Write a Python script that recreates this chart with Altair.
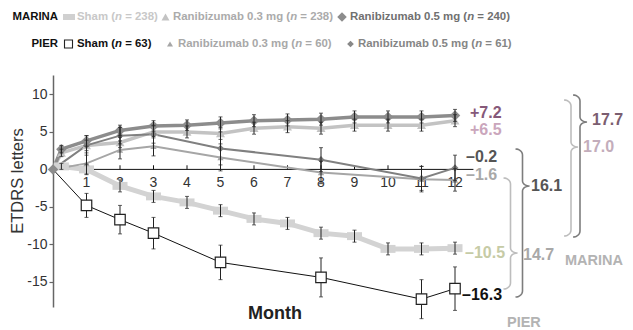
import numpy as np
import pandas as pd
import altair as alt

FONT = "Liberation Sans"

# ---------------- data ----------------
marina_months = [0, 0.25, 1, 2, 3, 4, 5, 6, 7, 8, 9, 10, 11, 12]
marina_sham = [0, 0.4, 0.0, -2.2, -3.6, -4.4, -5.5, -6.6, -7.2, -8.5, -8.9, -10.6, -10.6, -10.5]
marina_sham_err = [0, 0.4, 0.7, 0.8, 0.8, 0.8, 0.8, 0.8, 0.8, 0.8, 0.8, 0.8, 0.8, 0.8]
marina_03 = [0, 2.2, 3.2, 3.6, 5.0, 5.0, 4.8, 5.5, 5.7, 5.5, 5.9, 5.9, 5.9, 6.5]
marina_03_err = [0, 0.5, 0.7, 0.7, 0.8, 0.8, 0.8, 0.8, 0.8, 0.8, 0.8, 0.8, 0.8, 0.8]
marina_05 = [0, 2.7, 3.8, 5.2, 5.8, 5.9, 6.2, 6.5, 6.6, 6.7, 7.0, 7.0, 7.0, 7.2]
marina_05_err = [0, 0.5, 0.7, 0.7, 0.7, 0.7, 0.8, 0.8, 0.8, 0.8, 0.8, 0.8, 0.8, 0.8]

pier_months = [0, 1, 2, 3, 5, 8, 11, 12]
pier_sham = [0, -4.8, -6.7, -8.5, -12.4, -14.4, -17.3, -15.9]
pier_sham_err = [0, 1.6, 1.9, 2.1, 2.3, 2.6, 2.6, 2.9]
pier_03 = [0, 0.8, 2.6, 3.1, 1.6, -0.4, -1.3, -1.4]
pier_03_err = [0, 1.4, 1.2, 1.3, 1.8, 1.5, 1.7, 1.5]
pier_05 = [0, 3.2, 4.5, 4.7, 2.8, 1.3, -1.2, 0.2]
pier_05_err = [0, 1.3, 1.1, 1.2, 2.2, 1.6, 1.6, 1.7]

legend_groups = ["MARINA", "PIER"]
legend_prefix = [["Sham (", "Ranibizumab 0.3 mg (", "Ranibizumab 0.5 mg ("],
                 ["Sham (", "Ranibizumab 0.3 mg (", "Ranibizumab 0.5 mg ("]]
legend_suffix = [["= 238)", "= 238)", "= 240)"],
                 ["= 63)", "= 60)", "= 61)"]]

end_labels = ["+7.2", "+6.5", "\u20130.2", "\u20131.6", "\u201310.5", "\u201316.3"]
diff_labels = ["17.7", "17.0", "16.1", "14.7"]
study_labels = ["MARINA", "PIER"]
x_tick_labels = [str(m) for m in range(1, 13)]
y_tick_values = [-15, -10, -5, 0, 5, 10]

# ---------------- layout ----------------
PXM, PXU = 33.5, 7.5          # px per month, px per letter
OX, OY = 53.0, 169.4          # page px of month 0 / value 0
W, H = 570, 232
XMAX = W / PXM
YMAX = (OY - 75) / PXU
YMIN = YMAX - H / PXU


def dxm(px):
    return (px - OX) / PXM


def dyv(py):
    return (OY - py) / PXU


xs = alt.Scale(domain=[0, XMAX], nice=False, zero=False)
ys = alt.Scale(domain=[YMIN, YMAX], nice=False, zero=False)
yaxis = alt.Axis(values=y_tick_values, title=None, grid=False, domainColor="#666",
                 domainWidth=1.5, tickColor="#666", tickSize=4, tickWidth=1.2,
                 labelFontSize=14, labelColor="#333", labelFont=FONT, labelPadding=2,
                 labelExpr="datum.value < 0 ? '-' + abs(datum.value) : '' + datum.value")


def X(f):
    return alt.X(f, type="quantitative", scale=xs, axis=None)


def Y(f):
    return alt.Y(f, type="quantitative", scale=ys, axis=yaxis)


RECT = "M-1,-0.53H1V0.53H-1Z"

series = [
    dict(m=marina_months, v=marina_sham, e=marina_sham_err, line="#d3d3d3", lw=5,
         shape=RECT, size=225, fill="#d3d3d3", stroke="#d3d3d3", sw=0, m0=False),
    dict(m=marina_months, v=marina_03, e=marina_03_err, line="#c3c3c3", lw=3.5,
         shape="triangle-up", size=81, fill="#c3c3c3", stroke="#c3c3c3", sw=0, m0=False),
    dict(m=marina_months, v=marina_05, e=marina_05_err, line="#8c8c8c", lw=3.5,
         shape="diamond", size=110, fill="#8c8c8c", stroke="#8c8c8c", sw=0, m0=True),
    dict(m=pier_months, v=pier_03, e=pier_03_err, line="#a6a6a6", lw=2,
         shape="triangle-up", size=40, fill="#a6a6a6", stroke="#a6a6a6", sw=0, m0=False),
    dict(m=pier_months, v=pier_05, e=pier_05_err, line="#808080", lw=2,
         shape="diamond", size=50, fill="#808080", stroke="#808080", sw=0, m0=False),
    dict(m=pier_months, v=pier_sham, e=pier_sham_err, line="#111111", lw=1,
         shape="square", size=110, fill="#ffffff", stroke="#222222", sw=1.2, m0=False),
]

line_layers, point_layers, err_layers = [], [], []
for s in series:
    df = pd.DataFrame({"month": s["m"], "value": s["v"], "err": s["e"]})
    df["lo"] = df["value"] - df["err"]
    df["hi"] = df["value"] + df["err"]
    base = alt.Chart(df)
    line_layers.append(base.mark_line(color=s["line"], strokeWidth=s["lw"]).encode(
        x=X("month"), y=Y("value")))
    dp = df if s["m0"] else df[df["month"] > 0]
    point_layers.append(alt.Chart(dp).mark_point(shape=s["shape"], size=s["size"], filled=True,
                                                 fill=s["fill"], stroke=s["stroke"],
                                                 strokeWidth=s["sw"], opacity=1).encode(
        x=X("month"), y=Y("value")))
    de = df[df["err"] > 0]
    eb = alt.Chart(de)
    err_layers.append(eb.mark_rule(color="#222", strokeWidth=1).encode(
        x=X("month"), y=Y("lo"), y2="hi"))
    err_layers.append(eb.mark_tick(orient="horizontal", color="#222", size=4, thickness=1).encode(
        x=X("month"), y=Y("lo")))
    err_layers.append(eb.mark_tick(orient="horizontal", color="#222", size=4, thickness=1).encode(
        x=X("month"), y=Y("hi")))

# x axis drawn at value 0
xaxis_line = alt.Chart(pd.DataFrame({"a": [0]})).mark_rule(color="#111", strokeWidth=1).encode(
    x=alt.datum(0, scale=xs, axis=None), x2=alt.datum(12.55), y=alt.datum(0, scale=ys, axis=yaxis))
tick_df = pd.DataFrame({"month": list(range(1, 13)), "lab": x_tick_labels, "y0": 0.0, "y1": 0.55})
xticks = alt.Chart(tick_df).mark_rule(color="#111", strokeWidth=1).encode(
    x=X("month"), y=Y("y0"), y2="y1")
xlabels = alt.Chart(tick_df).mark_text(font=FONT, fontSize=14, color="#333", dy=14,
                                       baseline="middle").encode(
    x=X("month"), y=Y("y0"), text="lab:N")

# braces
brace_specs = [  # x vertical (page px), top, tip, bottom (page px), colour
    (580, 95, 122, 237, "#7d7d7d"),
    (571, 100, 147, 236, "#bdbdbd"),
    (522.5, 149, 186, 297, "#7d7d7d"),
    (510.5, 178, 253, 289, "#bdbdbd"),
]
rows = []
t = np.linspace(0, np.pi / 2, 8)
for bi, (bx, btop, btip, bbot, col) in enumerate(brace_specs):
    hw, r, tw, tr = 7, 6, 7, 5
    pts = []
    pts += list(zip(bx - hw + hw * np.sin(t), btop + r - r * np.cos(t)))
    pts += list(zip(bx + tw - tw * np.cos(t), btip - tr + tr * np.sin(t)))
    pts += list(zip(bx + tw - tw * np.sin(t), btip + tr - tr * np.cos(t)))
    pts += list(zip(bx - hw + hw * np.cos(t), bbot - r + r * np.sin(t)))
    for k, (px, py) in enumerate(pts):
        rows.append({"b": bi, "o": k, "month": dxm(px), "value": dyv(py), "col": col})
brace_df = pd.DataFrame(rows)
braces = alt.Chart(brace_df).mark_line(strokeWidth=1.6).encode(
    x=X("month"), y=Y("value"), order="o:Q", detail="b:N",
    color=alt.Color("col:N", scale=None))

# annotation texts (page px positions -> data coordinates)
ann_pos = [(470, 113), (470, 130), (466, 157), (466, 175), (465, 253), (462, 294.5)]
ann_col = ["#86597a", "#caa6bc", "#555555", "#a8a8a8", "#c6cba6", "#111111"]
diff_pos = [(592, 119.5), (583, 146.5), (531, 186), (523, 255)]
diff_col = ["#7b5d70", "#c3adbb", "#555555", "#a8a8a8"]
study_pos = [(565, 261), (507, 323)]
tx = []
for lab, (px, py), c in zip(end_labels, ann_pos, ann_col):
    tx.append({"x": dxm(px), "y": dyv(py), "text": lab, "color": c, "fs": 16})
for lab, (px, py), c in zip(diff_labels, diff_pos, diff_col):
    tx.append({"x": dxm(px), "y": dyv(py), "text": lab, "color": c, "fs": 16})
for lab, (px, py) in zip(study_labels, study_pos):
    tx.append({"x": dxm(px), "y": dyv(py), "text": lab, "color": "#b3b3b3", "fs": 14.5})
ann = alt.Chart(pd.DataFrame(tx)).mark_text(font=FONT, fontWeight="bold", align="left",
                                            baseline="middle").encode(
    x=X("x"), y=Y("y"), text="text:N", color=alt.Color("color:N", scale=None),
    size=alt.Size("fs:Q", scale=None))

month_title = alt.Chart(pd.DataFrame({"x": [dxm(275)], "y": [dyv(313.5)], "t": ["Month"]})).mark_text(
    font=FONT, fontWeight="bold", fontSize=18, color="#222", align="center", baseline="middle").encode(
    x=X("x"), y=Y("y"), text="t:N")
y_title = alt.Chart(pd.DataFrame({"x": [dxm(18)], "y": [dyv(181)], "t": ["ETDRS letters"]})).mark_text(
    font=FONT, fontSize=16.5, color="#333", align="center", baseline="middle", angle=270).encode(
    x=X("x"), y=Y("y"), text="t:N")

# legend
AW = {" ": .278, "(": .333, ")": .333, "=": .584, ".": .278, "S": .667, "h": .611, "a": .556,
      "m": .889, "n": .611, "R": .722, "i": .278, "b": .611, "z": .5, "u": .611, "g": .611}
for d in "0123456789":
    AW[d] = .556
LFS = 11.4


def tw_(s):
    return sum(AW.get(ch, .6) for ch in s) * LFS


row_y = [17, 44]
text_start = [[77, 173, 350], [77, 178, 358]]
leg_col = [["#c8c8c8", "#ababab", "#707070"], ["#111111", "#a8a8a8", "#858585"]]
reg, ital, heads = [], [], []
for r in range(2):
    heads.append({"x": dxm(58), "y": dyv(row_y[r]), "t": legend_groups[r]})
    for i in range(3):
        x0 = text_start[r][i]
        pre, suf = legend_prefix[r][i], legend_suffix[r][i]
        c = leg_col[r][i]
        reg.append({"x": dxm(x0), "y": dyv(row_y[r]), "t": pre, "c": c})
        ital.append({"x": dxm(x0 + tw_(pre)), "y": dyv(row_y[r]), "t": "n", "c": c})
        reg.append({"x": dxm(x0 + tw_(pre) + tw_("n") + tw_(" ")), "y": dyv(row_y[r]),
                    "t": suf, "c": c})
leg_reg = alt.Chart(pd.DataFrame(reg)).mark_text(font=FONT, fontWeight="bold", fontSize=LFS,
                                                align="left", baseline="middle").encode(
    x=X("x"), y=Y("y"), text="t:N", color=alt.Color("c:N", scale=None))
leg_it = alt.Chart(pd.DataFrame(ital)).mark_text(font=FONT, fontWeight="bold", fontStyle="italic",
                                                fontSize=LFS, align="left", baseline="middle").encode(
    x=X("x"), y=Y("y"), text="t:N", color=alt.Color("c:N", scale=None))
leg_head = alt.Chart(pd.DataFrame(heads)).mark_text(font=FONT, fontWeight="bold", fontSize=LFS,
                                                   color="#111", align="right", baseline="middle").encode(
    x=X("x"), y=Y("y"), text="t:N")

sym_specs = [  # page x, row, shape, size, fill, stroke, sw
    (69, 0, "M-1,-0.5H1V0.5H-1Z", 144, "#d0d0d0", "#d0d0d0", 0),
    (165.5, 0, "triangle-up", 64, "#c3c3c3", "#c3c3c3", 0),
    (342, 0, "diamond", 90, "#8c8c8c", "#8c8c8c", 0),
    (68.5, 1, "square", 64, "#ffffff", "#222222", 1.1),
    (170, 1, "triangle-up", 36, "#a6a6a6", "#a6a6a6", 0),
    (350.5, 1, "diamond", 45, "#888888", "#888888", 0),
]
sym_layers = []
for (px, r, shp, sz, fl, st, sw) in sym_specs:
    sym_layers.append(alt.Chart(pd.DataFrame({"x": [dxm(px)], "y": [dyv(row_y[r])]})).mark_point(
        shape=shp, size=sz, filled=True, fill=fl, stroke=st, strokeWidth=sw, opacity=1).encode(
        x=X("x"), y=Y("y")))

layers = ([xaxis_line, xticks, xlabels, braces] + line_layers + point_layers[:5] + err_layers
          + [point_layers[5], ann, month_title, y_title, leg_reg, leg_it, leg_head] + sym_layers)

chart = alt.layer(*layers).properties(
    width=W, height=H,
    autosize=alt.AutoSizeParams(type="none"),
    padding={"left": 45, "top": 67, "right": 2, "bottom": 23},
    background="white",
).configure_view(stroke=None)

chart.save("out.html", embed_options={"renderer": "svg", "actions": False})
